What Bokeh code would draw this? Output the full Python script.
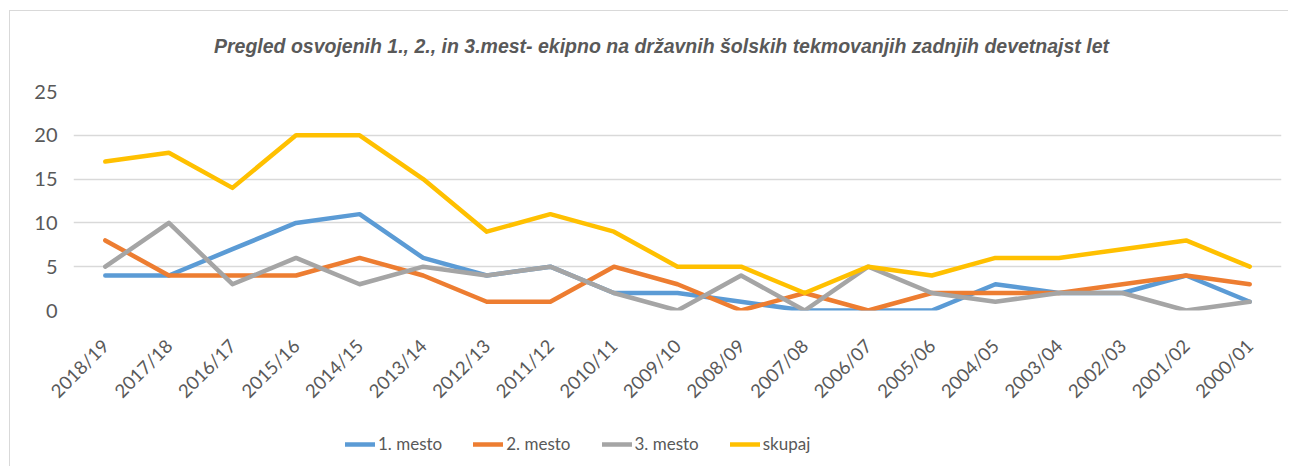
import math
from bokeh.plotting import figure
from bokeh.layouts import column
from bokeh.models import Range1d, FactorRange, Legend, LegendItem, SingleIntervalTicker, Label
from bokeh.embed import file_html
from bokeh.resources import INLINE

categories = ["2018/19", "2017/18", "2016/17", "2015/16", "2014/15", "2013/14", "2012/13",
              "2011/12", "2010/11", "2009/10", "2008/09", "2007/08", "2006/07", "2005/06",
              "2004/05", "2003/04", "2002/03", "2001/02", "2000/01"]
mesto1 = [4, 4, 7, 10, 11, 6, 4, 5, 2, 2, 1, 0, 0, 0, 3, 2, 2, 4, 1]
mesto2 = [8, 4, 4, 4, 6, 4, 1, 1, 5, 3, 0, 2, 0, 2, 2, 2, 3, 4, 3]
mesto3 = [5, 10, 3, 6, 3, 5, 4, 5, 2, 0, 4, 0, 5, 2, 1, 2, 2, 0, 1]
skupaj = [17, 18, 14, 20, 20, 15, 9, 11, 9, 5, 5, 2, 5, 4, 6, 6, 7, 8, 5]

series_names = ["1. mesto", "2. mesto", "3. mesto", "skupaj"]
series_values = [mesto1, mesto2, mesto3, skupaj]
colors = ["#5B9BD5", "#ED7D31", "#A5A5A5", "#FFC000"]
title_text = "Pregled osvojenih 1., 2., in 3.mest- ekipno na državnih šolskih tekmovanjih zadnjih devetnajst let"

TEXT = "#595959"
FONT = "Lato"
W = 1288
LEFT, RIGHT = 73, 7

# ---- title strip (frame aligned with the chart frame by the column) ----
pt = figure(width=W, height=70, x_range=Range1d(LEFT, W - RIGHT), y_range=Range1d(0, 70),
            x_axis_type=None, y_axis_type=None, output_backend="svg", toolbar_location=None,
            min_border_left=LEFT, min_border_right=RIGHT, min_border_top=0, min_border_bottom=0)
pt.grid.visible = False
pt.outline_line_color = None
pt.background_fill_color = None
pt.border_fill_color = None
pt.add_layout(Label(x=661, y=25, text=title_text, text_align="center", text_baseline="middle",
                    text_font="Liberation Sans", text_font_style="bold italic",
                    text_font_size="19.5px", text_color=TEXT))

# ---- main chart ----
p = figure(width=W, height=350, x_range=FactorRange(factors=categories, range_padding=0),
           y_range=Range1d(0, 25), output_backend="svg", toolbar_location=None,
           min_border_left=LEFT, min_border_right=RIGHT, min_border_top=21, min_border_bottom=110)
p.outline_line_color = None
p.background_fill_color = None
p.border_fill_color = None

p.xgrid.grid_line_color = None
p.ygrid.grid_line_color = "#d9d9d9"
p.ygrid.grid_line_width = 1.5

p.yaxis.ticker = SingleIntervalTicker(interval=5)
p.yaxis.axis_line_color = None
p.yaxis.major_tick_line_color = None
p.yaxis.minor_tick_line_color = None
p.yaxis.major_label_standoff = 10
p.yaxis.major_label_text_font = FONT
p.yaxis.major_label_text_font_size = "20px"
p.yaxis.major_label_text_color = TEXT

p.xaxis.axis_line_color = None
p.xaxis.major_tick_line_color = None
p.xaxis.major_label_orientation = math.pi / 4
p.xaxis.major_label_standoff = 26
p.xaxis.major_label_text_font = FONT
p.xaxis.major_label_text_font_size = "18.5px"
p.xaxis.major_label_text_color = TEXT

for name, vals, col in zip(series_names, series_values, colors):
    p.line(categories, vals, line_color=col, line_width=4.5, line_cap="round", line_join="round")

# ---- legend strip ----
pl = figure(width=W, height=46, x_range=FactorRange(factors=categories, range_padding=0),
            y_range=Range1d(100, 101),
            x_axis_type=None, y_axis_type=None, output_backend="svg", toolbar_location=None,
            min_border_left=LEFT, min_border_right=RIGHT, min_border_top=0, min_border_bottom=0)
pl.grid.visible = False
pl.outline_line_color = None
pl.background_fill_color = None
pl.border_fill_color = None
items = []
for name, vals, col in zip(series_names, series_values, colors):
    # same series, outside this strip's visible range: only the legend swatch shows
    r = pl.line(categories, vals, line_color=col, line_width=4.5, line_cap="round")
    items.append(LegendItem(label=name, renderers=[r]))
legend = Legend(items=items, orientation="horizontal", location=(345 - LEFT, 12),
                glyph_width=30, label_standoff=3, spacing=31, padding=0, margin=0,
                border_line_color=None, background_fill_alpha=0,
                label_text_font=FONT, label_text_font_size="17px", label_text_color=TEXT)
pl.add_layout(legend, "center")

layout = column(pt, p, pl, spacing=0)
layout.styles = {"background": "linear-gradient(#d9d9d9,#d9d9d9) 9px 10px / 1px 100% no-repeat, "
                               "linear-gradient(#d9d9d9,#d9d9d9) 9px 10px / 100% 1px no-repeat, white"}

open("out.html", "w").write(file_html(layout, INLINE))
